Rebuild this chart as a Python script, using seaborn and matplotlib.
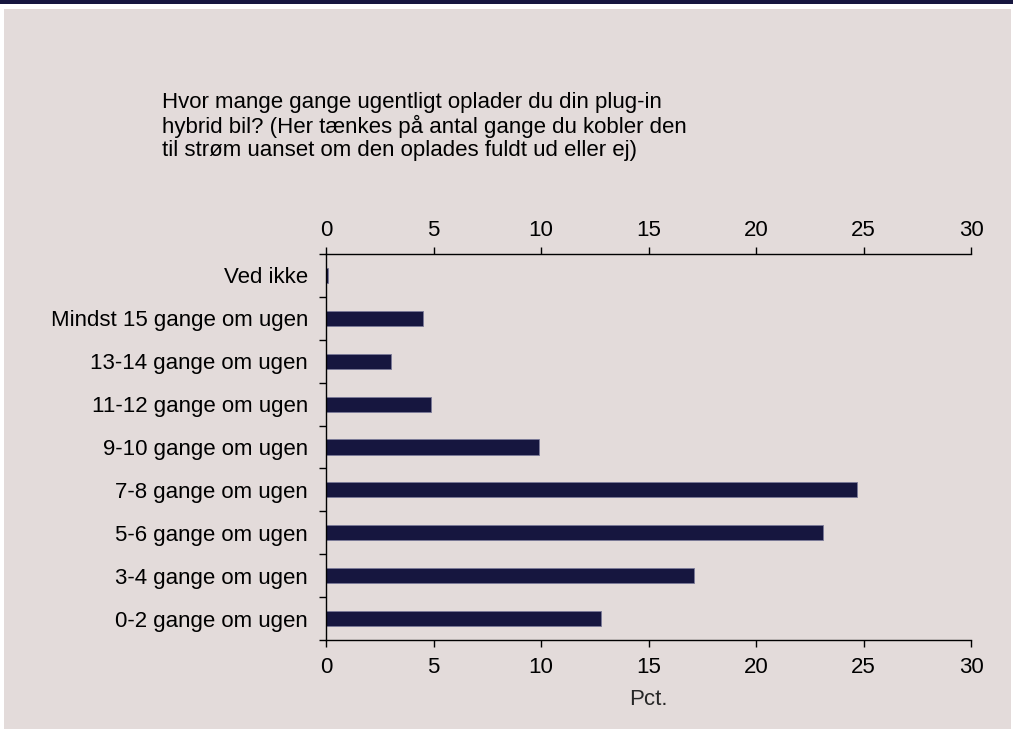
import numpy as np
import pandas as pd
import seaborn as sns
import matplotlib.pyplot as plt
from matplotlib.patches import Rectangle
from matplotlib.ticker import FixedLocator
from matplotlib.transforms import ScaledTranslation

# data
categories = ["Ved ikke", "Mindst 15 gange om ugen", "13-14 gange om ugen",
              "11-12 gange om ugen", "9-10 gange om ugen", "7-8 gange om ugen",
              "5-6 gange om ugen", "3-4 gange om ugen", "0-2 gange om ugen"]
pct = [0.1, 4.5, 3.0, 4.9, 9.9, 24.7, 23.1, 17.1, 12.8]
xticks = [0, 5, 10, 15, 20, 25, 30]

title = ("Hvor mange gange ugentligt oplader du din plug-in\n"
         "hybrid bil? (Her tænkes på antal gange du kobler den\n"
         "til strøm uanset om den oplades fuldt ud eller ej)")

bg = "#e3dbda"
navy = "#16163f"
fs = 16

sns.set_theme(style="white")
plt.rcParams["font.family"] = ["Liberation Sans", "DejaVu Sans"]

df = pd.DataFrame({"kat": categories, "pct": pct})

fig = plt.figure(figsize=(10.13, 7.29), dpi=100, facecolor="white")
# grey panel + dark strip at top
fig.patches.append(Rectangle((4 / 1013, 0), 1 - 6 / 1013, 1 - 9 / 729,
                             transform=fig.transFigure, facecolor=bg,
                             edgecolor="none", zorder=-2))
fig.patches.append(Rectangle((0, 1 - 4 / 729), 1, 4 / 729,
                             transform=fig.transFigure, facecolor=navy,
                             edgecolor="none", zorder=-2))

ax = fig.add_axes([326 / 1013, 1 - 640 / 729, 645 / 1013, 386 / 729])
ax.set_facecolor("none")

sns.barplot(data=df, x="pct", y="kat", order=categories, color=navy,
            width=0.35, edgecolor="#7a7a98", linewidth=0.6, saturation=1,
            ax=ax)

ax.set_xlim(0, 30)
ax.set_ylim(len(categories) - 0.5, -0.5)
ax.set_xticks(xticks)
ax.set_xticklabels([str(t) for t in xticks])
ax.set_xlabel("Pct.", fontsize=fs, labelpad=8)
ax.set_ylabel("")

for s in ["left", "top", "bottom"]:
    ax.spines[s].set_visible(True)
    ax.spines[s].set_color("black")
    ax.spines[s].set_linewidth(1.0)
ax.spines["right"].set_visible(False)

ax.tick_params(axis="x", which="major", direction="out", length=5, width=1,
               color="black", top=True, labeltop=True, bottom=True,
               labelbottom=True, labelsize=fs, pad=7, labelcolor="black")
ax.tick_params(axis="y", which="major", length=0, pad=13, labelsize=fs,
               labelcolor="black")
ax.yaxis.set_minor_locator(FixedLocator(np.arange(-0.5, len(categories), 1)))
ax.tick_params(axis="y", which="minor", direction="out", length=5, width=1,
               color="black", left=True)

# top labels sit a bit closer to the spine than the bottom ones
shift = ScaledTranslation(0, -3.5 / 100, fig.dpi_scale_trans)
for t in ax.xaxis.get_major_ticks():
    t.label2.set_transform(t.label2.get_transform() + shift)

fig.text(162 / 1013, 1 - 92 / 729, title, ha="left", va="top",
         fontsize=fs, linespacing=1.12, color="black")

fig.savefig("out.png", dpi=100, facecolor=fig.get_facecolor())
